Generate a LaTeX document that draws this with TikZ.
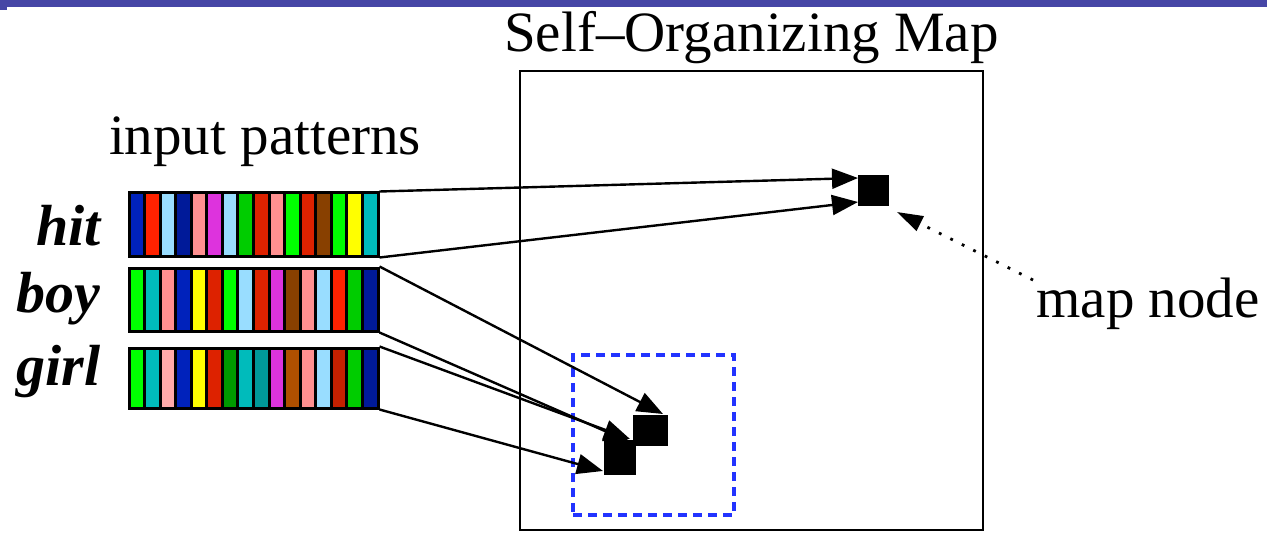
\documentclass[tikz,border=0pt]{standalone}
\usepackage{fontspec}
\setmainfont{Liberation Serif}
\usetikzlibrary{arrows.meta,calc}
\definecolor{band}{HTML}{4646A6}
\definecolor{db}{HTML}{0022BB}
\definecolor{nv}{HTML}{001A99}
\definecolor{rd}{HTML}{FF2200}
\definecolor{dr}{HTML}{DD2200}
\definecolor{crd}{HTML}{C42000}
\definecolor{lb}{HTML}{99DDFF}
\definecolor{pk}{HTML}{FF9090}
\definecolor{lp}{HTML}{FFAAAA}
\definecolor{mg}{HTML}{DD33DD}
\definecolor{gr}{HTML}{00CC00}
\definecolor{bg}{HTML}{00FF00}
\definecolor{dg}{HTML}{009900}
\definecolor{br}{HTML}{884000}
\definecolor{orb}{HTML}{B05000}
\definecolor{ye}{HTML}{FFFF00}
\definecolor{tl}{HTML}{00BBBB}
\definecolor{dt}{HTML}{009999}
\definecolor{dashblue}{HTML}{2233FF}
\tikzset{
  txt/.style={font=\fontsize{28.5}{34}\selectfont, inner sep=0pt, anchor=base},
  word/.style={font=\fontsize{29}{34}\selectfont\bfseries\itshape, inner sep=0pt, anchor=base east},
  barbox/.style={draw=black, line width=1.5pt, inner sep=0pt, minimum width=124.5pt, minimum height=31.5pt},
  stripe/.style={draw=black, line width=1.5pt},
  blk/.style={fill=black, inner sep=0pt},
  conn/.style={draw=black, line width=1.2pt, -{Triangle[length=13pt,width=10pt]}},
}
\begin{document}
\begin{tikzpicture}[x=0.5pt,y=-0.5pt]
\useasboundingbox (0,0) rectangle (1267,534);
% top band
\fill[band] (0,0) rectangle (1267,7);
\fill[band] (0,7) rectangle (7,10);

% map frame and title
\node[draw=black, line width=1.2pt, inner sep=0pt, minimum width=231.5pt, minimum height=229.5pt] (som) at (751.5,300.5) {};
\node[txt] (title) at (751.5,52) {Self–Organizing Map};

% input patterns
\node[txt] (inlabel) at (265,155) {input patterns};
\node[word] (hitw) at (101,245) {hit};
\node[word] (boyw) at (101,312) {boy};
\node[word] (girlw) at (101,385) {girl};

\node[barbox] (hitbar) at (253.5,224.5) {};
\node[barbox] (boybar) at (253.5,299.5) {};
\node[barbox, minimum height=30pt] (girlbar) at (253.5,378) {};

\foreach \c [count=\i from 0] in {db,rd,lb,nv,pk,mg,lb,gr,dr,pk,bg,dr,br,bg,ye,tl}
  \filldraw[stripe, fill=\c] (129+\i*15.5625,193) rectangle ++(15.5625,63);
\foreach \c [count=\i from 0] in {bg,tl,pk,db,ye,dr,bg,lb,dr,mg,br,pk,lb,rd,gr,nv}
  \filldraw[stripe, fill=\c] (129+\i*15.5625,268) rectangle ++(15.5625,63);
\foreach \c [count=\i from 0] in {bg,tl,lp,db,ye,dr,dg,tl,dt,mg,orb,pk,lb,crd,gr,nv}
  \filldraw[stripe, fill=\c] (129+\i*15.5625,348) rectangle ++(15.5625,60);

% blue neighbourhood
\node[draw=dashblue, line width=1.6pt, dash pattern=on 4.5pt off 3pt, inner sep=0pt, minimum width=80.5pt, minimum height=80pt] (hood) at (653.5,435) {};

% arrow tips
\coordinate (t1) at (858,178);
\coordinate (t2) at (858,202);
\coordinate (t3) at (663,414);
\coordinate (t4) at (630,442);
\coordinate (t5) at (630,439);
\coordinate (t6) at (603,471);
\coordinate (mstart) at (1033,280);
\coordinate (mtip) at (897,212);

\draw[conn] (hitbar.north east) -- (t1);
\draw[conn] (hitbar.south east) -- (t2);
\draw[conn] (boybar.north east) -- (t3);
\draw[conn] (boybar.south east) -- (t4);
\draw[conn] (girlbar.north east) -- (t5);
\draw[conn] (girlbar.south east) -- (t6);

% map nodes
\node[blk, minimum width=15.5pt, minimum height=15.5pt] (mapnode) at (873.5,190.5) {};
\node[blk, minimum width=17.5pt, minimum height=15.5pt] (sqone) at (650.5,430.5) {};
\node[blk, minimum width=16pt, minimum height=17.5pt] (sqtwo) at (620,457.5) {};

% map node label
\node[txt] (mnlabel) at (1148,317) {map node};
\draw[line width=1.4pt, dash pattern=on 1.4pt off 5pt, -{Triangle[length=13pt,width=8pt]}] (mstart) -- (mtip);
\end{tikzpicture}
\end{document}
